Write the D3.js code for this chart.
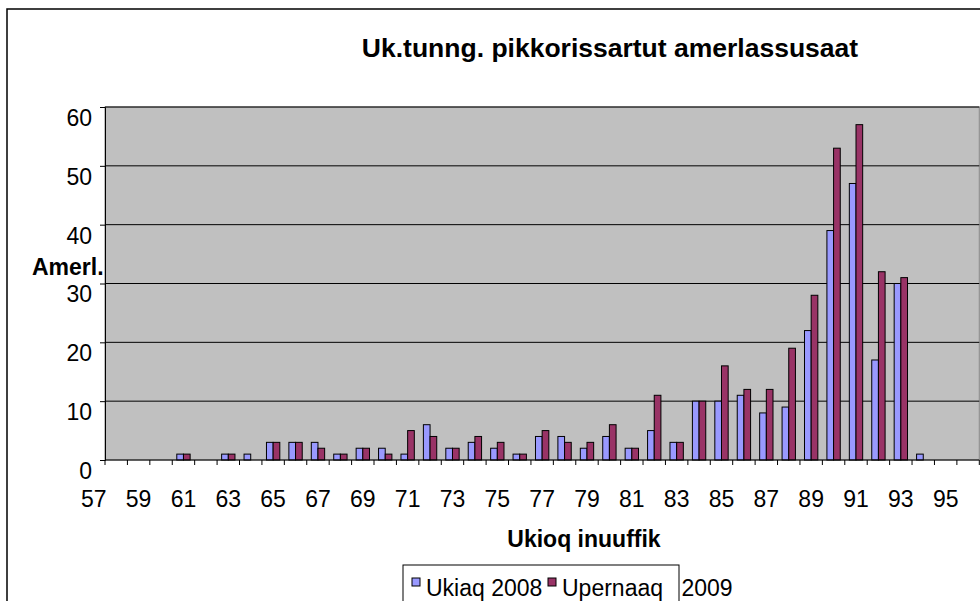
<!DOCTYPE html>
<html>
<head>
<meta charset="utf-8">
<script src="https://cdn.jsdelivr.net/npm/d3@7"></script>
<style>
  body { margin: 0; background: #fff; }
  svg { display: block; font-family: "Liberation Sans", Arial, sans-serif; }
</style>
</head>
<body>
<svg id="chart" width="980" height="601"></svg>
<script>
// categories (age), 57 is only a label left of the first bar
const categories = ["57","58","59","60","61","62","63","64","65","66","67","68","69","70","71","72","73","74","75","76",
                    "77","78","79","80","81","82","83","84","85","86","87","88","89","90","91","92","93","94","95","96"];
const tickLabels = ["57","59","61","63","65","67","69","71","73","75","77","79","81","83","85","87","89","91","93","95"];
const seriesNames = ["Ukiaq 2008", "Upernaaq 2009"];
const ukiaq2008 = [0,0,0,0,1,0,1,1,3,3,3,1,2,2,1,6,2,3,2,1,4,4,2,4,2,5,3,10,10,11,8,9,22,39,47,17,30,1,0,0];
const upernaaq2009 = [0,0,0,0,1,0,1,0,3,3,2,1,2,1,5,4,2,4,3,1,5,3,3,6,2,11,3,10,16,12,12,19,28,53,57,32,31,0,0,0];
const yTicks = [0,10,20,30,40,50,60];
const colors = ["#9999ff", "#993366"];

const svg = d3.select("#chart");
const plotLeft = 105, plotRight = 979.3, plotTop = 107, plotBottom = 460;
const step = (plotRight - plotLeft) / (categories.length - 1);

// outer chart border
svg.append("rect")
  .attr("x", 7).attr("y", 9)
  .attr("width", 1000).attr("height", 620)
  .attr("fill", "none").attr("stroke", "#000").attr("stroke-width", 1.5);

let x = d3.scaleBand()
  .domain(categories)
  .range([plotLeft - step, plotRight]);

let x1 = d3.scaleBand()
  .domain(seriesNames)
  .range([0, x.bandwidth()])
  .paddingOuter(0.68);

let y = d3.scaleLinear()
  .domain([0, 60])
  .range([plotBottom, plotTop]);

// plot area
svg.append("rect")
  .attr("x", plotLeft).attr("y", plotTop)
  .attr("width", plotRight - plotLeft).attr("height", plotBottom - plotTop)
  .attr("fill", "#c0c0c0").attr("stroke", "#808080").attr("stroke-width", 1);

// gridlines
svg.append("g")
  .selectAll("line")
  .data(yTicks.filter(d => d > 0))
  .enter().append("line")
  .attr("x1", plotLeft).attr("x2", plotRight)
  .attr("y1", d => y(d)).attr("y2", d => y(d))
  .attr("stroke", "#000").attr("stroke-width", 1);

// bars
const rows = categories.map((c, i) => ({cat: c, vals: [ukiaq2008[i], upernaaq2009[i]]}));
svg.append("g")
  .selectAll("g")
  .data(rows)
  .enter().append("g")
  .attr("transform", d => "translate(" + x(d.cat) + ",0)")
  .selectAll("rect")
  .data(d => d.vals.map((v, j) => ({name: seriesNames[j], v: v, j: j})).filter(e => e.v > 0))
  .enter().append("rect")
  .attr("x", d => x1(d.name))
  .attr("y", d => y(d.v))
  .attr("width", x1.bandwidth())
  .attr("height", d => y(0) - y(d.v))
  .attr("fill", d => colors[d.j])
  .attr("stroke", "#000")
  .attr("stroke-width", 1);

// y axis
let yAxis = svg.append("g")
  .attr("transform", "translate(" + plotLeft + ",0)")
  .call(d3.axisLeft(y).tickValues(yTicks).tickSize(5).tickFormat(d3.format("d")));
yAxis.select(".domain").attr("stroke", "#000");
yAxis.selectAll("text")
  .attr("x", -13).attr("dy", "0.8em")
  .style("font-size", "23px").style("font-family", "Liberation Sans, Arial, sans-serif")
  .attr("fill", "#000");

// x axis: domain line and ticks at category boundaries
svg.append("line")
  .attr("x1", plotLeft).attr("x2", plotRight)
  .attr("y1", plotBottom).attr("y2", plotBottom)
  .attr("stroke", "#000").attr("stroke-width", 1);
svg.append("g")
  .selectAll("line")
  .data(categories.slice(1))
  .enter().append("line")
  .attr("x1", d => x(d)).attr("x2", d => x(d))
  .attr("y1", plotBottom).attr("y2", plotBottom + 5)
  .attr("stroke", "#000");
svg.append("line")
  .attr("x1", plotRight).attr("x2", plotRight)
  .attr("y1", plotBottom).attr("y2", plotBottom + 5)
  .attr("stroke", "#000");

svg.append("g")
  .selectAll("text")
  .data(tickLabels)
  .enter().append("text")
  .attr("x", d => x(d) + x.bandwidth() / 2)
  .attr("y", 507)
  .style("text-anchor", "middle")
  .style("font-size", "23px")
  .text(d => d);

// title
svg.append("text")
  .attr("x", 610).attr("y", 57)
  .style("text-anchor", "middle")
  .style("font-weight", "bold")
  .style("font-size", "26.5px")
  .text("Uk.tunng. pikkorissartut amerlassusaat");

// x-axis label
svg.append("text")
  .attr("x", 584).attr("y", 547)
  .style("text-anchor", "middle")
  .style("font-weight", "bold")
  .style("font-size", "23px")
  .text("Ukioq inuuffik");

// y-axis label
svg.append("text")
  .attr("x", 32).attr("y", 275)
  .style("font-weight", "bold")
  .style("font-size", "23px")
  .text("Amerl.");

// legend
let legend = svg.append("g");
legend.append("rect")
  .attr("x", 403).attr("y", 565)
  .attr("width", 276).attr("height", 60)
  .attr("fill", "#fff").attr("stroke", "#000").attr("stroke-width", 1);
const legendX = [412, 548];
const legendWordGap = [0, 12];
legend.selectAll("rect.key")
  .data(seriesNames)
  .enter().append("rect")
  .attr("class", "key")
  .attr("x", (d, i) => legendX[i]).attr("y", 578)
  .attr("width", 8).attr("height", 8)
  .attr("fill", (d, i) => colors[i])
  .attr("stroke", "#000");
legend.selectAll("text")
  .data(seriesNames)
  .enter().append("text")
  .attr("x", (d, i) => legendX[i] + 14)
  .attr("y", 596)
  .style("font-size", "23px")
  .style("word-spacing", (d, i) => legendWordGap[i] + "px")
  .text(d => d);
</script>
</body>
</html>
